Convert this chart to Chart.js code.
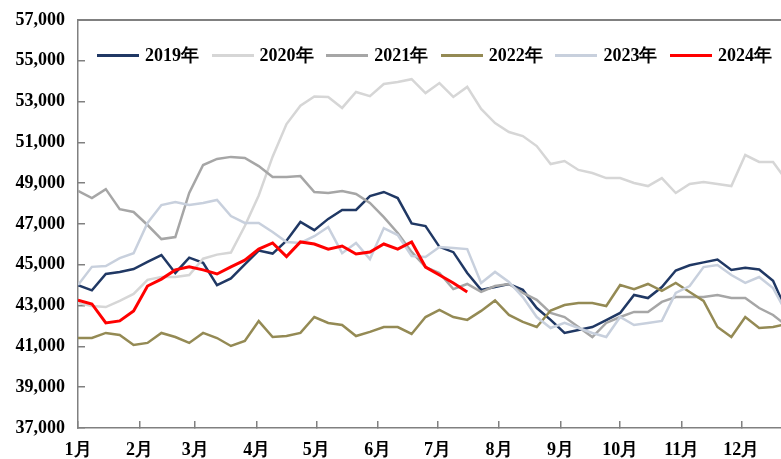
<!DOCTYPE html>
<html>
<head>
<meta charset="utf-8">
<script src="https://cdn.jsdelivr.net/npm/chart.js@4.4.1/dist/chart.umd.min.js"></script>
<style>
  body { margin: 0; background: #fff; }
  #wrap { position: relative; width: 781px; height: 459px; }
  #legend { position: absolute; left: 97px; top: 43px; display: flex; }
  .item { display: flex; align-items: center; width: 114.6px; font: bold 18px "Times New Roman", "Liberation Serif", serif; color: #000; white-space: nowrap; }
  .item i { display: inline-block; width: 42px; height: 3px; margin-right: 6px; }
</style>
</head>
<body>
<div id="wrap">
  <canvas id="chart" width="781" height="459"></canvas>
  <div id="legend"></div>
</div>
<script>
// weekly points, x = day of year
const weekDays = Array.from({ length: 52 }, (_, i) => i * 7);
const monthStarts = [0, 31, 59, 90, 120, 151, 181, 212, 243, 273, 304, 334];
const monthLabels = ["1月", "2月", "3月", "4月", "5月", "6月", "7月", "8月", "9月", "10月", "11月", "12月"];

const s2019 = [44000, 43750, 44550, 44650, 44790, 45140, 45480, 44600, 45350, 45100, 44000, 44330, 45020, 45700, 45550, 46180, 47100, 46700, 47250, 47690, 47690, 48370, 48570, 48270, 47030, 46900, 45880, 45620, 44600, 43770, 43910, 44060, 43770, 42880, 42300, 41660, 41800, 41950, 42290, 42640, 43520, 43370, 43910, 44720, 44980, 45120, 45260, 44750, 44860, 44770, 44220, 42700];
const s2020 = [43130, 42980, 42930, 43230, 43570, 44260, 44400, 44400, 44500, 45300, 45500, 45600, 46900, 48400, 50300, 51900, 52800, 53250, 53230, 52690, 53470, 53270, 53860, 53960, 54100, 53420, 53910, 53230, 53720, 52640, 51950, 51510, 51310, 50820, 49940, 50090, 49650, 49500, 49250, 49250, 49010, 48860, 49250, 48520, 48960, 49060, 48960, 48860, 50380, 50040, 50040, 49100];
const s2021 = [48620, 48270, 48710, 47730, 47590, 46950, 46260, 46360, 48520, 49890, 50190, 50290, 50240, 49840, 49300, 49300, 49350, 48570, 48520, 48620, 48470, 48030, 47340, 46560, 45630, 44890, 44600, 43810, 44060, 43670, 43960, 44060, 43620, 43280, 42640, 42440, 41950, 41460, 42150, 42440, 42690, 42690, 43180, 43420, 43420, 43420, 43520, 43370, 43370, 42880, 42540, 42000];
const s2022 = [41410, 41410, 41660, 41560, 41070, 41170, 41660, 41460, 41170, 41660, 41410, 41020, 41270, 42240, 41460, 41510, 41660, 42440, 42150, 42050, 41510, 41710, 41950, 41950, 41610, 42440, 42790, 42440, 42300, 42740, 43250, 42540, 42200, 41950, 42760, 43030, 43130, 43130, 42980, 44010, 43810, 44060, 43720, 44110, 43670, 43230, 41950, 41460, 42440, 41900, 41950, 42100];
const s2023 = [44010, 44900, 44940, 45330, 45570, 47050, 47930, 48080, 47930, 48030, 48180, 47390, 47050, 47050, 46610, 46120, 46070, 46400, 46850, 45570, 46070, 45280, 46800, 46460, 45430, 45380, 45870, 45820, 45770, 44110, 44650, 44160, 43420, 42440, 41900, 42150, 41900, 41660, 41460, 42440, 42050, 42150, 42250, 43620, 43960, 44890, 44990, 44500, 44110, 44400, 43860, 42600];
const s2024 = [43270, 43080, 42150, 42250, 42740, 43960, 44300, 44750, 44900, 44750, 44550, 44900, 45230, 45770, 46070, 45400, 46120, 46020, 45770, 45920, 45530, 45630, 46020, 45770, 46120, 44890, 44500, 44110, 43670];

const fontFam = '"Times New Roman", "Liberation Serif", serif';
const axisGrey = "#808080";

const datasets = [
    { label: "2019年", data: s2019, borderColor: "#203864", borderWidth: 2.5, order: 5 },
    { label: "2020年", data: s2020, borderColor: "#D6D6D6", borderWidth: 2.5, order: 4 },
    { label: "2021年", data: s2021, borderColor: "#A6A6A6", borderWidth: 2.5, order: 3 },
    { label: "2022年", data: s2022, borderColor: "#948A54", borderWidth: 2.5, order: 2 },
    { label: "2023年", data: s2023, borderColor: "#C8D0DD", borderWidth: 2.5, order: 1 },
    { label: "2024年", data: s2024, borderColor: "#FF0000", borderWidth: 3, order: 0 },
];

const tickFont = { family: fontFam, size: 18, weight: "bold" };

// top edge of the plot frame
const topBorder = {
    id: "topBorder",
    afterDraw(chart) {
        const { ctx, chartArea } = chart;
        ctx.save();
        ctx.strokeStyle = axisGrey;
        ctx.lineWidth = 2;
        ctx.beginPath();
        ctx.moveTo(chartArea.left, chartArea.top);
        ctx.lineTo(chartArea.right, chartArea.top);
        ctx.stroke();
        ctx.restore();
    },
};

const chart = new Chart(document.getElementById("chart"), {
    type: "line",
    data: { labels: weekDays, datasets: datasets },
    plugins: [topBorder],
    options: {
        responsive: false,
        animation: false,
        layout: { padding: { top: 20, left: 0, right: 0, bottom: 0 } },
        plugins: { legend: { display: false }, tooltip: { enabled: false } },
        elements: { point: { radius: 0 }, line: { tension: 0 } },
        scales: {
            x: {
                type: "linear",
                min: 0,
                max: 354,
                afterBuildTicks: (scale) => {
                    scale.ticks = monthStarts.map((v) => ({ value: v }));
                },
                afterFit: (scale) => {
                    scale.height = 31;
                    scale.paddingLeft = 0;
                    scale.paddingRight = 0;
                },
                ticks: {
                    callback: (v) => monthLabels[monthStarts.indexOf(v)],
                    font: tickFont,
                    color: "#000",
                    padding: 19,
                    autoSkip: false,
                    maxRotation: 0,
                },
                grid: { drawOnChartArea: false, tickLength: -7, color: axisGrey, lineWidth: 1.5 },
                border: { color: axisGrey, width: 1.5 },
            },
            y: {
                min: 37000,
                max: 57000,
                afterFit: (scale) => {
                    scale.width = 78;
                    scale.paddingTop = 0;
                    scale.paddingBottom = 0;
                },
                ticks: {
                    stepSize: 2000,
                    callback: (v) => v.toLocaleString("en-US"),
                    font: tickFont,
                    color: "#000",
                    padding: 20,
                },
                grid: { drawOnChartArea: false, tickLength: -7, color: axisGrey, lineWidth: 1.5 },
                border: { color: axisGrey, width: 1.5 },
            },
        },
    },
});

// legend drawn as html over the plot
const legendEl = document.getElementById("legend");
datasets.forEach((ds) => {
    const item = document.createElement("div");
    item.className = "item";
    const line = document.createElement("i");
    line.style.background = ds.borderColor;
    item.appendChild(line);
    item.appendChild(document.createTextNode(ds.label));
    legendEl.appendChild(item);
});
</script>
</body>
</html>
